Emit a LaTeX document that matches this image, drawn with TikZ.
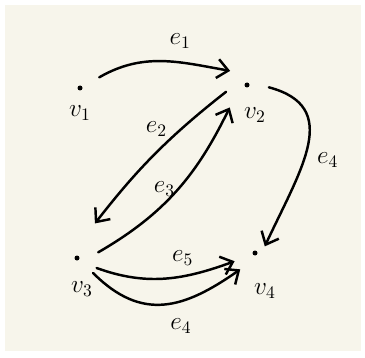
\documentclass[tikz,border=0pt]{standalone}
\usepackage{tikz}
\usetikzlibrary{arrows.meta,positioning,calc}
\definecolor{paper}{RGB}{247,245,235}
\tikzset{
  % Base styles
  sketch base/.style={
    x=0.02cm, y=-0.02cm,
    every node/.style={font=\Large},
    line cap=round,
  },
  % Vertices: a dot inside an invisible disc
  vertex node/.style={circle, minimum size=8.8mm, inner sep=0pt, outer sep=0pt,
    path picture={\fill (path picture bounding box.center) circle (0.5mm);}},
  vertex label/.style={inner sep=1pt},
  % Edges
  hand edge/.style={-{Straight Barb[length=2.2mm,width=3.8mm]}, line width=1.4pt},
  edge label/.style={inner sep=1pt},
}

\begin{document}
\begin{tikzpicture}[sketch base]
% Paper
\useasboundingbox (0,0) rectangle (365,358);
\fill[white] (0,0) rectangle (365,358);
\fill[paper] (5,5) rectangle (361,351);

% Vertices
\node[vertex node] (v1) at (80,88) {};
\node[vertex node] (v2) at (247,85) {};
\node[vertex node] (v3) at (77,258) {};
\node[vertex node] (v4) at (255,253) {};

% Vertex labels
\node[vertex label, below=3.2mm of v1.center] (l1) {$v_1$};
\node[vertex label, below=4.2mm of v2.center, xshift=1.6mm] (l2) {$v_2$};
\node[vertex label, below=4.4mm of v3.center, xshift=1mm] (l3) {$v_3$};
\node[vertex label, below=5.8mm of v4.center, xshift=2mm] (l4) {$v_4$};

% Edges
\draw[hand edge] (v1.29) to[out=30,in=170] node[edge label, above=2.2mm, pos=.64] {$e_1$} (v2.140);
\draw[hand edge, shorten >=3.5mm] (v2.198) to[out=218,in=52] node[edge label, above left, pos=.35] {$e_2$} (v3.71);
\draw[hand edge, shorten >=1.3mm] (v3.15) to[out=30,in=244] node[edge label, left, pos=.5] {$e_3$} (v2.229);
\draw[hand edge, shorten >=-2.2mm] (v2.-6) to[out=-15,in=65,looseness=1.3] node[edge label, right=2mm, pos=.6] {$e_4$} (v4.49);
\draw[hand edge] (v3.-27) to[out=-20,in=200] node[edge label, above=1.5mm, pos=.63] {$e_5$} (v4.202);
\draw[hand edge] (v3.-43) to[out=-45,in=215,looseness=1.2] node[edge label, below=3mm, pos=.62] {$e_4$} (v4.228);
\end{tikzpicture}
\end{document}
